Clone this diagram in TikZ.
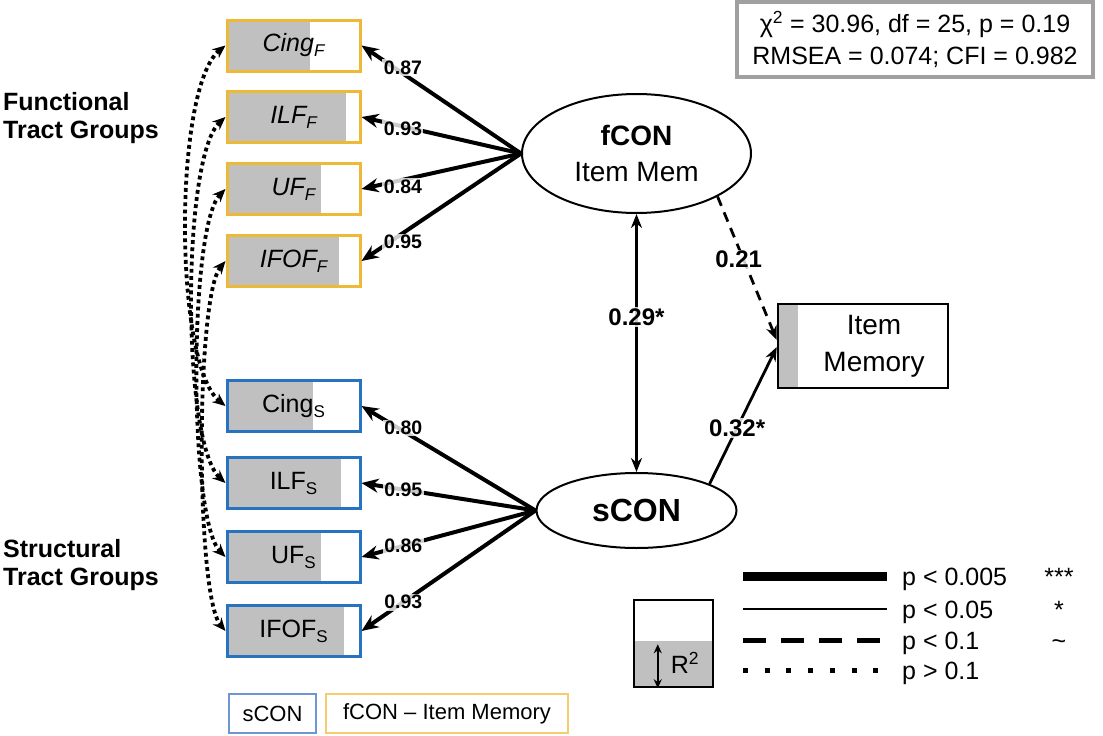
\documentclass[tikz,border=0pt]{standalone}
\usepackage{fontspec}
\setmainfont{Liberation Sans}
\usetikzlibrary{arrows.meta,shapes.geometric}
\definecolor{ybord}{RGB}{238,185,55}
\definecolor{bbord}{RGB}{40,115,192}
\definecolor{lyb}{RGB}{245,205,110}
\definecolor{lbb}{RGB}{110,150,210}
\definecolor{boxgray}{RGB}{192,192,192}
\definecolor{fitgray}{RGB}{160,160,160}
\newcommand\tsub[1]{\raisebox{-5pt}{\fontsize{17}{17}\selectfont #1}}
\begin{document}
\begin{tikzpicture}[x=1pt,y=-1pt,
  every node/.style={font=\fontsize{25}{30}\selectfont},
  tract/.style={fill=white, line width=3, minimum width=133, minimum height=51, inner sep=0,
    path picture={\fill[boxgray] (path picture bounding box.south west) rectangle ([xshift=#1]path picture bounding box.north west);}},
  fbox/.style={tract=#1, draw=ybord},
  sbox/.style={tract=#1, draw=bbord},
  load/.style={line width=4, -{Stealth[length=17pt,width=14pt]}},
  mid/.style={line width=2.8},
  lab/.style={fill=white, fill opacity=0.8, text opacity=1, inner sep=1.5, font=\bfseries\fontsize{19.5}{19.5}\selectfont},
  mlab/.style={fill=white, fill opacity=0.8, text opacity=1, inner sep=1.5, font=\bfseries\fontsize{24}{24}\selectfont},
  corr/.style={line width=3.8, dash pattern=on 3.8pt off 3.4pt, {Stealth[length=13pt,width=11pt]}-{Stealth[length=13pt,width=11pt]}},
  legtxt/.style={anchor=base west, inner sep=0}
]
\useasboundingbox (0,0) rectangle (1103,736);

% titles
\node[anchor=north west, inner sep=0, align=left, font=\bfseries\fontsize{25}{28}\selectfont] (ft) at (3,92) {Functional\\Tract Groups};
\node[anchor=north west, inner sep=0, align=left, font=\bfseries\fontsize{25}{28}\selectfont] (st) at (3,539) {Structural\\Tract Groups};

% functional boxes
\node[fbox=83]  (cf) at (293.5,45.5) {\itshape Cing\tsub{F}};
\node[fbox=119] (lf) at (293.5,117) {\itshape ILF\tsub{F}};
\node[fbox=94]  (uf) at (293.5,189) {\itshape UF\tsub{F}};
\node[fbox=112] (of) at (293.5,261) {\itshape IFOF\tsub{F}};
% structural boxes
\node[sbox=86]  (cs) at (293.5,406) {Cing\tsub{S}};
\node[sbox=114] (ls) at (293.5,483) {ILF\tsub{S}};
\node[sbox=94]  (us) at (293.5,557) {UF\tsub{S}};
\node[sbox=117] (os) at (293.5,631) {IFOF\tsub{S}};

% latent variables
\node[ellipse, draw, line width=2, fill=white, minimum width=229, minimum height=119, inner sep=0, align=center,
  font=\fontsize{28}{36}\selectfont] (fcon) at (636.5,153.5) {{\bfseries fCON}\\Item Mem};
\node[ellipse, draw, line width=2, fill=white, minimum width=200, minimum height=75, inner sep=0,
  font=\bfseries\fontsize{32}{32}\selectfont] (scon) at (636.5,510.5) {sCON};

% outcome
\node[draw, line width=2.5, fill=white, minimum width=170, minimum height=84, inner sep=0, align=center,
  font=\fontsize{28}{37}\selectfont,
  path picture={\fill[boxgray] (path picture bounding box.south west) rectangle ([xshift=20]path picture bounding box.north west);}]
  (item) at (863,346) {\hspace*{22pt}Item\\\hspace*{22pt}Memory};

% loadings
\draw[load] (fcon.west) -- (cf.east) node[lab, pos=0.74, yshift=6] {0.87};
\draw[load] (fcon.west) -- (lf.east) node[lab, pos=0.74, yshift=-2] {0.93};
\draw[load] (fcon.west) -- (uf.east) node[lab, pos=0.74, yshift=-7] {0.84};
\draw[load] (fcon.west) -- (of.east) node[lab, pos=0.74, yshift=-9] {0.95};
\draw[load] (scon.west) -- (cs.east) node[lab, pos=0.76, yshift=3] {0.80};
\draw[load] (scon.west) -- (ls.east) node[lab, pos=0.76] {0.95};
\draw[load] (scon.west) -- (us.east) node[lab, pos=0.76] {0.86};
\draw[load] (scon.west) -- (os.east) node[lab, pos=0.76] {0.93};

% structural paths
\draw[mid, {Stealth[length=14pt,width=11pt]}-{Stealth[length=14pt,width=11pt]}] (fcon.south) -- (scon.north) node[mlab, pos=0.4] {0.29*};
\draw[mid, dash pattern=on 10pt off 7pt, -{Stealth[length=14pt,width=11pt]}] (fcon.-28) -- ([yshift=6]item.west) node[mlab, pos=0.44, xshift=-5] {0.21};
\draw[mid, -{Stealth[length=14pt,width=11pt]}] (scon.20) -- ([yshift=-1]item.west) node[mlab, pos=0.41] {0.32*};

% correlated residuals
\draw[corr] (cf.west) .. controls +(-52,42) and +(-52,-42) .. (cs.west);
\draw[corr] (lf.west) .. controls +(-44,40) and +(-44,-40) .. (ls.west);
\draw[corr] (uf.west) .. controls +(-37,38) and +(-37,-38) .. (us.west);
\draw[corr] (of.west) .. controls +(-30,36) and +(-30,-36) .. (os.west);

% fit box
\node[draw=fitgray, line width=4, fill=white, minimum width=356, minimum height=75, inner sep=0, align=center,
  font=\fontsize{25}{32}\selectfont] (fit) at (915,39.5)
  {χ\textsuperscript{2} = 30.96, df = 25, p = 0.19\\RMSEA = 0.074; CFI = 0.982};

% legend: line styles
\draw[line width=9] (743,576) -- (887,576);
\draw[line width=2.5] (743,609) -- (887,609);
\draw[line width=5, dash pattern=on 23pt off 15pt] (743,640) -- (887,640);
\draw[line width=5, dash pattern=on 5pt off 16.7pt] (743,670) -- (887,670);
\node[legtxt] (l1) at (902,585) {p < 0.005};
\node[legtxt] (l2) at (902,618) {p < 0.05};
\node[legtxt] (l3) at (902,649) {p < 0.1};
\node[legtxt] (l4) at (902,679) {p > 0.1};
\node[anchor=base, inner sep=0] (s1) at (1059,585) {***};
\node[anchor=base, inner sep=0] (s2) at (1059,618) {*};
\node[anchor=base, inner sep=0] (s3) at (1059,649) {\char"007E};

% legend: R2 box
\node[draw, line width=2.5, fill=white, minimum width=79, minimum height=87, inner sep=0,
  path picture={\fill[boxgray] (path picture bounding box.south west) rectangle ([yshift=46]path picture bounding box.south east);}]
  (r2) at (673.5,643.5) {};
\draw[line width=2, {Stealth[length=9pt,width=8pt]}-{Stealth[length=9pt,width=8pt]}] ([xshift=25,yshift=44]r2.south west) -- ([xshift=25]r2.south west);
\node (r2t) at (685,663) {R\textsuperscript{2}};

% legend: colour boxes
\node[draw=lbb, line width=2, minimum width=87, minimum height=39, inner sep=0, font=\fontsize{22}{22}\selectfont] (lgs) at (272.5,713.5) {sCON};
\node[draw=lyb, line width=2, minimum width=242, minimum height=39, inner sep=0, font=\fontsize{22}{22}\selectfont] (lgf) at (447,713.5) {fCON \textendash\ Item Memory};
\end{tikzpicture}
\end{document}
